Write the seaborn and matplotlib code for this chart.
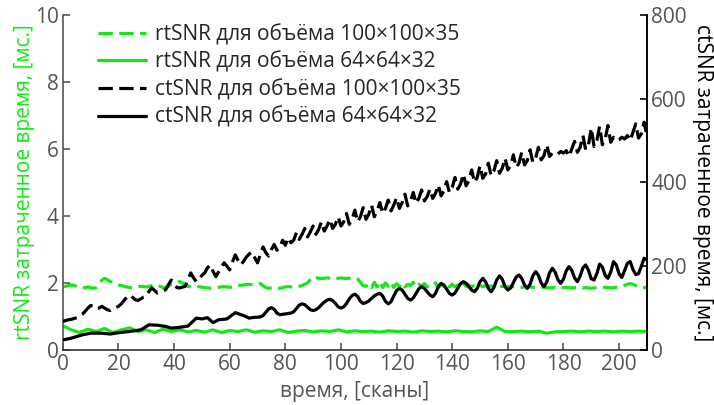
import matplotlib
matplotlib.use("Agg")
import matplotlib.pyplot as plt
import seaborn as sns
import numpy as np

# rtSNR (left axis, ms), green
rt_big_scan = np.arange(0, 211)
rt_big = [
    1.88, 1.90, 1.92, 1.94, 1.93, 1.90, 1.87, 1.85, 1.86, 1.88,
    1.86, 1.84, 1.86, 1.95, 2.08, 2.14, 2.10, 2.04, 2.02, 1.98,
    1.94, 1.92, 1.90, 1.88, 1.86, 1.85, 1.86, 1.88, 1.90, 1.89,
    1.88, 1.90, 1.92, 1.94, 1.93, 1.90, 1.86, 1.87, 1.90, 1.96,
    1.99, 2.02, 2.04, 2.00, 1.95, 1.90, 1.88, 1.87, 1.88, 1.89,
    1.87, 1.86, 1.85, 1.84, 1.85, 1.86, 1.87, 1.88, 1.89, 1.88,
    1.87, 1.88, 1.90, 1.92, 1.93, 1.94, 1.95, 1.96, 1.95, 1.94,
    1.96, 1.98, 1.92, 1.86, 1.84, 1.85, 1.86, 1.85, 1.84, 1.86,
    1.88, 1.89, 1.88, 1.87, 1.88, 1.90, 1.92, 1.96, 2.00, 2.10,
    2.18, 2.16, 2.14, 2.13, 2.14, 2.15, 2.14, 2.12, 2.13, 2.14,
    2.15, 2.14, 2.13, 2.14, 2.15, 2.14, 2.12, 2.02, 1.92, 1.90,
    1.98, 1.86, 2.02, 1.88, 2.04, 1.86, 2.00, 1.90, 2.02, 1.86,
    1.98, 1.90, 2.00, 1.88, 1.96, 1.92, 2.02, 1.88, 1.96, 1.90,
    1.98, 1.88, 1.94, 1.92, 2.00, 1.86, 1.94, 1.90, 1.98, 1.88,
    1.96, 1.88, 1.94, 1.86, 1.98, 1.90, 1.94, 1.88, 1.92, 1.90,
    1.94, 1.88, 1.92, 1.90, 1.91, 1.89, 1.90, 1.88, 1.90, 1.89,
    1.90, 1.88, 1.89, 1.90, 1.88, 1.87, 1.88, 1.89, 1.88, 1.87,
    1.86, 1.87, 1.88, 1.87, 1.86, 1.85, 1.86, 1.87, 1.86, 1.85,
    1.86, 1.87, 1.86, 1.85, 1.86, 1.87, 1.86, 1.85, 1.86, 1.85,
    1.84, 1.85, 1.86, 1.85, 1.86, 1.87, 1.86, 1.85, 1.86, 1.87,
    1.88, 1.90, 1.93, 1.96, 1.98, 1.96, 1.92, 1.88, 1.86, 1.86, 1.87,
]

rt_small_scan = np.arange(0, 211, 3)
rt_small = [
    0.72, 0.60, 0.52, 0.62, 0.55, 0.64, 0.52, 0.60, 0.66, 0.55,
    0.60, 0.52, 0.62, 0.55, 0.60, 0.54, 0.58, 0.53, 0.60, 0.52,
    0.58, 0.55, 0.60, 0.53, 0.57, 0.55, 0.60, 0.52, 0.56, 0.58,
    0.54, 0.57, 0.55, 0.60, 0.54, 0.57, 0.55, 0.56, 0.53, 0.57,
    0.55, 0.56, 0.53, 0.57, 0.55, 0.56, 0.54, 0.57, 0.55, 0.54,
    0.57, 0.55, 0.68, 0.55, 0.55, 0.56, 0.54, 0.56, 0.50, 0.54,
    0.55, 0.56, 0.54, 0.56, 0.55, 0.56, 0.54, 0.56, 0.55, 0.56,
    0.55,
]

# ctSNR (right axis, ms), black
ct_big_scan = np.arange(0, 211)
ct_big = [
    68, 70, 72, 73, 75, 77, 80, 85, 92, 100,
    106, 104, 98, 100, 104, 100, 96, 94, 98, 101,
    104, 110, 118, 126, 131, 126, 120, 118, 122, 126,
    128, 140, 148, 142, 136, 138, 141, 144, 156, 167,
    158, 149, 148, 150, 152, 168, 184, 172, 163, 170,
    178, 184, 196, 203, 188, 175, 186, 198, 208, 200,
    191, 210, 227, 214, 203, 212, 222, 229, 234, 220,
    208, 228, 246, 232, 224, 240, 252, 238, 244, 262,
    250, 268, 256, 262, 280, 264, 276, 290, 270, 282,
    296, 276, 288, 306, 284, 296, 312, 290, 300, 318,
    296, 306, 326, 300, 312, 334, 306, 318, 340, 312,
    324, 346, 318, 332, 352, 326, 338, 358, 332, 346,
    364, 338, 352, 372, 344, 356, 376, 350, 362, 382,
    356, 366, 384, 362, 374, 394, 368, 380, 402, 376,
    388, 412, 384, 396, 420, 392, 404, 430, 400, 412,
    440, 410, 420, 446, 416, 428, 452, 422, 434, 458,
    430, 440, 466, 436, 446, 472, 442, 452, 478, 448,
    458, 484, 454, 464, 490, 462, 470, 466, 468, 474,
    470, 476, 462, 480, 498, 472, 484, 512, 478, 490,
    530, 486, 500, 534, 490, 504, 536, 496, 508, 500,
    502, 508, 504, 512, 500, 520, 540, 506, 516, 544, 512,
]

ct_small_scan = [0, 3, 7, 10, 14, 17, 20, 25, 28, 31, 34, 37, 39, 42, 45, 48,
                 50, 52, 54, 56, 59, 62, 65] + list(range(67, 211))
ct_small = [24, 28, 36, 40, 40, 38, 41, 45, 48, 60, 59, 56, 52, 54, 57, 76,
            74, 77, 65, 72, 74, 89, 82,
            76, 77, 78, 78, 79, 82, 90, 98, 101, 97, 88, 84, 85, 86, 87, 88,
            91, 99, 107, 110, 108, 102, 96, 94, 96, 101, 108, 114, 119, 121,
            118, 111, 103, 100, 103, 111, 122, 130, 133, 128, 116, 111, 113,
            117, 123, 129, 133, 135, 129, 116, 110, 115, 129, 142, 147, 143,
            133, 123, 119, 124, 135, 146, 151, 147, 139, 131, 127, 135, 151,
            159, 155, 145, 135, 131, 136, 147, 158, 163, 159, 151, 143, 139,
            147, 163, 171, 163, 147, 139, 149, 167, 177, 169, 151, 143, 148,
            161, 174, 179, 171, 155, 147, 157, 177, 187, 178, 160, 151, 162,
            184, 195, 186, 168, 159, 169, 189, 199, 190, 172, 163, 176, 196,
            203, 190, 170, 167, 182, 205, 198, 178, 171, 186, 211, 203, 182,
            173, 190, 207, 211, 192, 180, 182, 200, 219, 215]

labels = ["rtSNR для объёма 100×100×35", "rtSNR для объёма 64×64×32",
          "ctSNR для объёма 100×100×35", "ctSNR для объёма 64×64×32"]

green = "#16e816"
gray = "#555555"
lw = 2.3
dash = (4.5, 2.0)
fs = 15

sns.set_theme(style="ticks")
plt.rcParams["font.family"] = ["Open Sans", "DejaVu Sans"]
plt.rcParams["font.size"] = fs

fig = plt.figure(figsize=(7.14, 4.05), dpi=100)
ax = fig.add_axes([0.088, 0.136, 0.818, 0.827])
ax2 = ax.twinx()

sns.lineplot(x=rt_big_scan, y=rt_big, ax=ax, color=green, lw=lw)
ax.lines[-1].set_dashes(dash)
sns.lineplot(x=rt_small_scan, y=rt_small, ax=ax, color=green, lw=lw)
sns.lineplot(x=ct_big_scan, y=ct_big, ax=ax2, color="black", lw=lw)
ax2.lines[-1].set_dashes(dash)
sns.lineplot(x=ct_small_scan, y=ct_small, ax=ax2, color="black", lw=lw)

ax.set_xlim(0, 210)
ax.set_ylim(0, 10)
ax2.set_ylim(0, 800)
ax.set_xticks(range(0, 201, 20))
ax.set_yticks(range(0, 11, 2))
ax2.set_yticks(range(0, 801, 200))

ax.spines["top"].set_visible(False)
ax2.spines["top"].set_visible(False)
ax.spines["left"].set_color(gray)
ax.spines["bottom"].set_color("#333333")
ax2.spines["right"].set_color("black")
for s in ["left", "bottom"]:
    ax.spines[s].set_linewidth(1.2)
    ax2.spines[s].set_visible(False)
ax2.spines["right"].set_linewidth(1.2)

ax.tick_params(axis="both", direction="in", length=5, width=1.2,
               colors=gray, labelsize=fs, pad=3)
ax2.tick_params(axis="y", direction="in", length=5, width=1.2,
                color="black", labelcolor=gray, labelsize=fs, pad=3)

ax.set_xlabel("время, [сканы]", color=gray, fontsize=fs, labelpad=4)
ax.set_ylabel("rtSNR затраченное время, [мс.]", color=green, fontsize=fs, labelpad=0)
ax2.set_ylabel("ctSNR затраченное время, [мс.]", color="black", fontsize=fs,
               rotation=270, va="bottom", labelpad=4)

handles = [ax.lines[0], ax.lines[1], ax2.lines[0], ax2.lines[1]]
leg = ax2.legend(handles, labels, loc="upper left", bbox_to_anchor=(0.028, 1.03),
                 frameon=False, fontsize=fs, handlelength=2.3,
                 labelspacing=0.3, handletextpad=0.45)

fig.savefig("out.png", dpi=100)
